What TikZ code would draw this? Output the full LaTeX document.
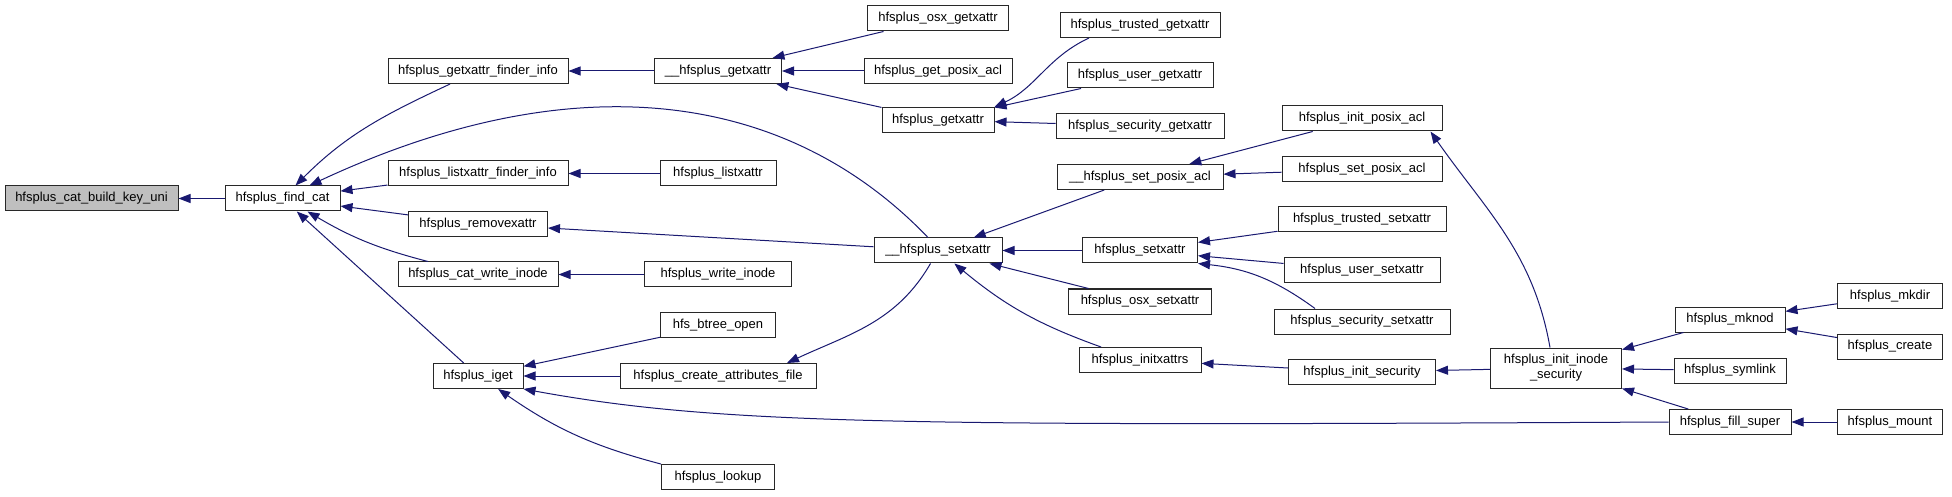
\documentclass[tikz,border=0pt]{standalone}
\usepackage{fontspec}
\setmainfont{Liberation Sans}
\usetikzlibrary{arrows.meta}
\definecolor{edgecolor}{RGB}{25,25,112}
\definecolor{maincolor}{RGB}{191,191,191}
\definecolor{bordercolor}{RGB}{40,40,40}

\begin{document}
\begin{tikzpicture}[
    x=1pt, y=1pt,
    func/.style={rectangle, draw=bordercolor, fill=white, line width=1pt, minimum height=25pt, inner xsep=4pt, inner ysep=2pt, font=\fontsize{13}{15}\selectfont},
    mainfunc/.style={func, fill=maincolor},
    call/.style={-{Triangle[length=12pt, width=9pt]}, draw=edgecolor, line width=1pt}
]
\useasboundingbox (0,0) rectangle (1952,496);

    % Function whose callers are shown
    \node[mainfunc, minimum width=173pt] (keyuni) at (91.5,297.5) {hfsplus\_cat\_build\_key\_uni};
    \node[func, minimum width=115pt] (findcat) at (282.5,297.5) {hfsplus\_find\_cat};

    % Direct callers of find_cat
    \node[func, minimum width=180pt] (getfinder) at (478,425) {hfsplus\_getxattr\_finder\_info};
    \node[func, minimum width=180pt] (listfinder) at (478,322.5) {hfsplus\_listxattr\_finder\_info};
    \node[func, minimum width=139pt] (removex) at (478,272) {hfsplus\_removexattr};
    \node[func, minimum width=160pt] (catwrite) at (478,221.5) {hfsplus\_cat\_write\_inode};
    \node[func, minimum width=90pt] (iget) at (478,120) {hfsplus\_iget};

    % Third column
    \node[func, minimum width=127pt] (getxattrint) at (718,425) {\_\_hfsplus\_getxattr};
    \node[func, minimum width=116pt] (listxattr) at (718,322.5) {hfsplus\_listxattr};
    \node[func, minimum width=147pt] (writeinode) at (718,221.5) {hfsplus\_write\_inode};
    \node[func, minimum width=115pt] (btreeopen) at (718,171) {hfs\_btree\_open};
    \node[func, minimum width=196pt] (createattr) at (718,120) {hfsplus\_create\_attributes\_file};
    \node[func, minimum width=113pt] (lookup) at (718,19) {hfsplus\_lookup};

    % Fourth column
    \node[func, minimum width=141pt] (osxget) at (938,477.5) {hfsplus\_osx\_getxattr};
    \node[func, minimum width=148pt] (getposixacl) at (938,425) {hfsplus\_get\_posix\_acl};
    \node[func, minimum width=112pt] (getxattr) at (938,376) {hfsplus\_getxattr};
    \node[func, minimum width=128pt] (setxattrint) at (938,245.5) {\_\_hfsplus\_setxattr};

    % Fifth column
    \node[func, minimum width=160pt] (trustedget) at (1140,471) {hfsplus\_trusted\_getxattr};
    \node[func, minimum width=146pt] (userget) at (1140,420.5) {hfsplus\_user\_getxattr};
    \node[func, minimum width=168pt] (securityget) at (1140,370) {hfsplus\_security\_getxattr};
    \node[func, minimum width=166pt] (setposixaclint) at (1140,319) {\_\_hfsplus\_set\_posix\_acl};
    \node[func, minimum width=115pt] (setxattr) at (1140,245.5) {hfsplus\_setxattr};
    \node[func, minimum width=143pt] (osxset) at (1140,194.5) {hfsplus\_osx\_setxattr};
    \node[func, minimum width=122pt] (initxattrs) at (1140,136) {hfsplus\_initxattrs};

    % Sixth column
    \node[func, minimum width=160pt] (initposixacl) at (1362,377.5) {hfsplus\_init\_posix\_acl};
    \node[func, minimum width=160pt] (setposixacl) at (1362,326.5) {hfsplus\_set\_posix\_acl};
    \node[func, minimum width=168pt] (trustedset) at (1362,276.5) {hfsplus\_trusted\_setxattr};
    \node[func, minimum width=156pt] (userset) at (1362,225.5) {hfsplus\_user\_setxattr};
    \node[func, minimum width=176pt] (securityset) at (1362,174.5) {hfsplus\_security\_setxattr};
    \node[func, minimum width=147pt] (initsecurity) at (1362,124) {hfsplus\_init\_security};

    % Right part
    \node[func, minimum width=131pt, minimum height=40pt, align=center] (initinodesec) at (1556,128) {hfsplus\_init\_inode\\\_security};
    \node[func, minimum width=110pt] (mknod) at (1730,176.5) {hfsplus\_mknod};
    \node[func, minimum width=112pt] (symlink) at (1730,125.5) {hfsplus\_symlink};
    \node[func, minimum width=122pt] (fillsuper) at (1730,74) {hfsplus\_fill\_super};
    \node[func, minimum width=105pt] (mkdir) at (1890,200) {hfsplus\_mkdir};
    \node[func, minimum width=105pt] (create) at (1890,149.5) {hfsplus\_create};
    \node[func, minimum width=105pt] (mount) at (1890,74) {hfsplus\_mount};

    % Calls into find_cat
    \draw[call] (findcat) -- (keyuni);
    \draw[call] (getfinder) to[out=205, in=45] (findcat);
    \draw[call] ([xshift=-10pt]setxattrint.north) .. controls +(-138,144) and +(270,126) .. ([xshift=27pt]findcat.north);
    \draw[call] (listfinder) -- (findcat);
    \draw[call] (removex) -- (findcat);
    \draw[call] ([xshift=-50pt]catwrite.north) to[bend left=8] ([xshift=25pt]findcat.south);
    \draw[call] (iget) -- (findcat);

    % Calls into the second column
    \draw[call] (getxattrint) -- (getfinder);
    \draw[call] (listxattr) -- (listfinder);
    \draw[call] (setxattrint) -- (removex);
    \draw[call] (writeinode) -- (catwrite);
    \draw[call] (btreeopen) -- (iget);
    \draw[call] (createattr) -- (iget);
    \draw[call] (lookup) to[bend left=10] (iget);
    \draw[call] (fillsuper.west) .. controls +(-769,-4) and +(197,-36) .. (iget.south east);

    % Calls into the third column
    \draw[call] (osxget) -- (getxattrint);
    \draw[call] (getposixacl) -- (getxattrint);
    \draw[call] (getxattr) -- (getxattrint);
    \draw[call] (setxattrint) to[out=240, in=25] ([xshift=69pt]createattr.north);

    % Calls into the fourth column
    \draw[call] ([xshift=-51pt]trustedget.south) to[out=205, in=25] (getxattr.north east);
    \draw[call] (userget) -- (getxattr);
    \draw[call] (securityget) -- (getxattr);
    \draw[call] (setposixaclint) -- (setxattrint);
    \draw[call] (setxattr) -- (setxattrint);
    \draw[call] (osxset) -- (setxattrint);
    \draw[call] (initxattrs) to[bend left=10] (setxattrint);

    % Calls into the fifth column
    \draw[call] (initposixacl) -- (setposixaclint);
    \draw[call] (setposixacl) -- (setposixaclint);
    \draw[call] (trustedset) -- (setxattr);
    \draw[call] (userset) -- (setxattr);
    \draw[call] ([xshift=-47pt]securityset.north) to[bend right=15] (setxattr.south east);
    \draw[call] (initsecurity) -- (initxattrs);

    % Calls into the sixth column
    \draw[call] ([xshift=-6pt]initinodesec.north) to[out=100, in=-55] ([xshift=-12pt]initposixacl.south east);
    \draw[call] (initinodesec) -- (initsecurity);

    % Right part
    \draw[call] (mknod) -- (initinodesec);
    \draw[call] (symlink) -- (initinodesec);
    \draw[call] (fillsuper) -- (initinodesec);
    \draw[call] (mkdir) -- (mknod);
    \draw[call] (create) -- (mknod);
    \draw[call] (mount) -- (fillsuper);

\end{tikzpicture}
\end{document}
